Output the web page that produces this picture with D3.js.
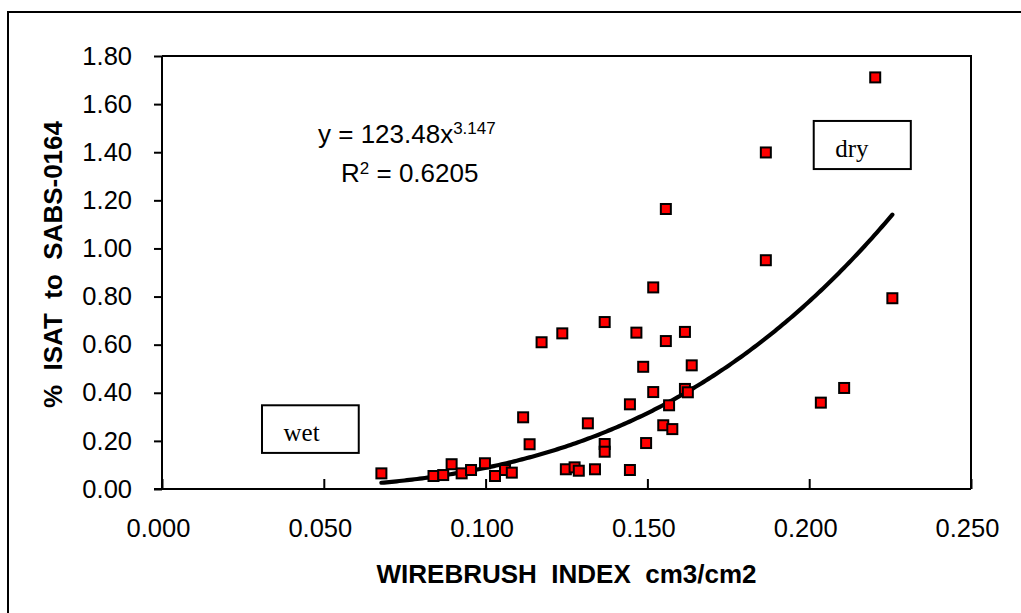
<!DOCTYPE html>
<html>
<head>
<meta charset="utf-8">
<script src="https://cdn.jsdelivr.net/npm/d3@7"></script>
<style>
  html, body { margin: 0; padding: 0; background: #fff; }
  svg text { white-space: pre; }
</style>
</head>
<body>
<svg id="chart" width="1021" height="613"></svg>
<script>
// Wirebrush index (cm3/cm2) against % ISAT to SABS-0164
const wirebrush = [
  0.0678, 0.0839, 0.0869, 0.0895, 0.0926, 0.0955, 0.0998, 0.1029, 0.1060, 0.1081,
  0.1116, 0.1136, 0.1173, 0.1237, 0.1248, 0.1275, 0.1288, 0.1316, 0.1338, 0.1368,
  0.1368, 0.1368, 0.1446, 0.1446, 0.1466, 0.1487, 0.1496, 0.1518, 0.1518, 0.1549,
  0.1557, 0.1557, 0.1567, 0.1577, 0.1616, 0.1616, 0.1625, 0.1637, 0.1866, 0.1866,
  0.2036, 0.2108, 0.2204, 0.2257
];
const isat = [
  0.065, 0.054, 0.058, 0.103, 0.065, 0.079, 0.107, 0.054, 0.079, 0.068,
  0.298, 0.186, 0.610, 0.647, 0.082, 0.090, 0.076, 0.273, 0.082, 0.694,
  0.187, 0.155, 0.352, 0.079, 0.650, 0.508, 0.191, 0.838, 0.403, 0.265,
  0.615, 1.164, 0.348, 0.249, 0.653, 0.416, 0.402, 0.514, 1.399, 0.951,
  0.359, 0.420, 1.711, 0.793
];

// power trend line  y = a * x^b
const fitA = 123.48;
const fitB = 3.147;
const fitR2 = "0.6205";

const xTicks = [0, 0.05, 0.10, 0.15, 0.20, 0.25];
const yTicks = [0, 0.2, 0.4, 0.6, 0.8, 1.0, 1.2, 1.4, 1.6, 1.8];

const svg = d3.select("#chart");
const plotL = 162, plotR = 971, plotT = 56, plotB = 489;

const x = d3.scaleLinear().domain([0, 0.25]).range([plotL, plotR]);
const y = d3.scaleLinear().domain([0, 1.8]).range([plotB, plotT]);

const sans = "'Liberation Sans', Arial, sans-serif";
const serif = "'Liberation Serif', 'Times New Roman', serif";

// outer chart border
svg.append("rect")
  .attr("x", 8).attr("y", 12).attr("width", 1040).attr("height", 640)
  .attr("fill", "none").attr("stroke", "#000").attr("stroke-width", 2);

// plot frame (top and right edges)
svg.append("path")
  .attr("d", `M${plotL},${plotT}H${plotR}V${plotB}`)
  .attr("fill", "none").attr("stroke", "#000").attr("stroke-width", 2);

// y axis
const yAxis = svg.append("g")
  .attr("transform", `translate(${plotL},0)`)
  .call(d3.axisLeft(y).tickValues(yTicks).tickFormat(d3.format(".2f")).tickSize(8).tickPadding(22));
yAxis.select(".domain").attr("stroke-width", 2).attr("d", `M-8,${y(0)}H0V${plotT}`);
yAxis.selectAll(".tick line").attr("stroke-width", 2);
yAxis.selectAll(".tick text").attr("font-family", sans).attr("font-size", 25.5).attr("fill", "#000");

// x axis (ticks point inward)
const xAxis = svg.append("g")
  .attr("transform", `translate(0,${plotB})`)
  .call(d3.axisBottom(x).tickValues(xTicks).tickFormat(d3.format(".3f")).tickSize(-10).tickPadding(30));
xAxis.select(".domain").attr("stroke-width", 2).attr("d", `M${plotL},0H${plotR}`);
xAxis.selectAll(".tick line").attr("stroke-width", 2);
xAxis.selectAll(".tick text").attr("font-family", sans).attr("font-size", 25.5).attr("fill", "#000")
  .attr("dx", -4);

// axis titles
svg.append("text")
  .attr("x", (plotL + plotR) / 2).attr("y", 583)
  .attr("text-anchor", "middle")
  .attr("font-family", sans).attr("font-weight", "bold").attr("font-size", 26)
  .text("WIREBRUSH  INDEX  cm3/cm2");

svg.append("text")
  .attr("transform", "translate(62,121) rotate(-90)")
  .attr("text-anchor", "end")
  .attr("font-family", sans).attr("font-weight", "bold").attr("font-size", 26)
  .text("%  ISAT  to  SABS-0164");

// trend line over the data range
const xs = d3.extent(wirebrush);
const curve = d3.range(0, 201).map(i => {
  const xv = xs[0] + (xs[1] - xs[0]) * i / 200;
  return [xv, fitA * Math.pow(xv, fitB)];
});
svg.append("path")
  .datum(curve)
  .attr("fill", "none").attr("stroke", "#000").attr("stroke-width", 4.2)
  .attr("stroke-linecap", "round")
  .attr("d", d3.line().x(d => x(d[0])).y(d => y(d[1])));

// data markers
const pts = wirebrush.map((v, i) => [v, isat[i]]);
svg.append("g").selectAll("rect")
  .data(pts).join("rect")
  .attr("x", d => x(d[0]) - 5).attr("y", d => y(d[1]) - 5)
  .attr("width", 10).attr("height", 10)
  .attr("fill", "#ff0000").attr("stroke", "#000").attr("stroke-width", 2);

// equation and R²
const eq = svg.append("text")
  .attr("x", 318).attr("y", 143)
  .attr("font-family", sans).attr("font-size", 26);
eq.append("tspan").text("y = 123.48x");
eq.append("tspan").attr("dy", -9).attr("font-size", 17).text(String(fitB));

const r2 = svg.append("text")
  .attr("x", 341).attr("y", 182)
  .attr("font-family", sans).attr("font-size", 26);
r2.append("tspan").text("R");
r2.append("tspan").attr("dy", -8).attr("font-size", 17).text("2");
r2.append("tspan").attr("dy", 8).text(" = " + fitR2);

// annotation boxes
const notes = [
  { label: "wet", x0: 0.0309, x1: 0.0608, y0: 0.348, y1: 0.150 },
  { label: "dry", x0: 0.2014, x1: 0.2314, y0: 1.530, y1: 1.330 }
];
notes.forEach(n => {
  svg.append("rect")
    .attr("x", x(n.x0)).attr("y", y(n.y0))
    .attr("width", x(n.x1) - x(n.x0)).attr("height", y(n.y1) - y(n.y0))
    .attr("fill", "#fff").attr("stroke", "#000").attr("stroke-width", 2);
  svg.append("text")
    .attr("x", x(n.x0) + 21.5).attr("y", y(n.y0) + 36)
    .attr("font-family", serif).attr("font-size", 25)
    .text(n.label);
});
</script>
</body>
</html>
